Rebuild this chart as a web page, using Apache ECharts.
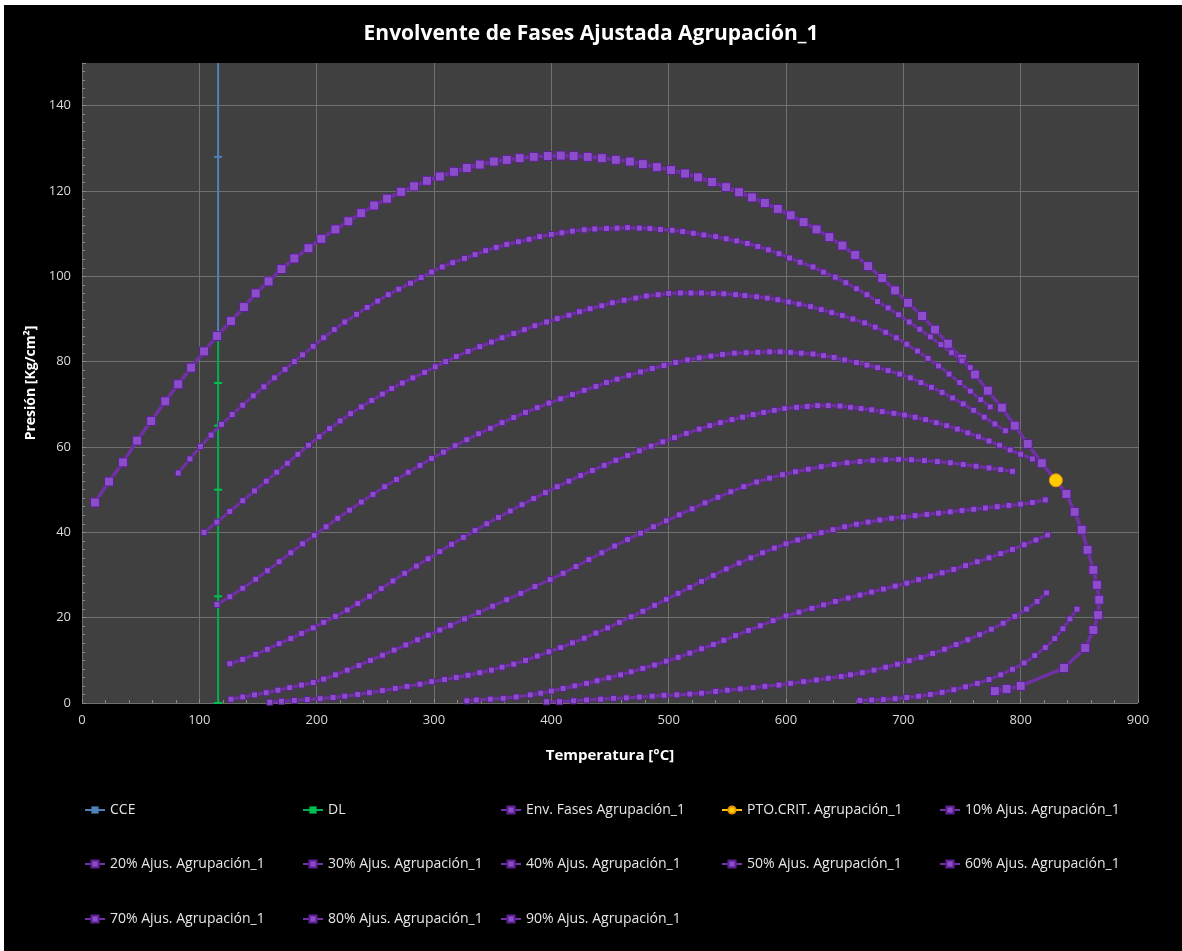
<!DOCTYPE html>
<html>
<head>
<meta charset="utf-8">
<script src="https://cdn.jsdelivr.net/npm/echarts@6/dist/echarts.min.js"></script>
<style>
html,body{margin:0;padding:0;background:#000;}
#chart{position:absolute;left:0;top:0;width:1182px;height:951px;}
.wl{position:absolute;left:0;top:0;width:4px;height:951px;background:#fff;}
.wt{position:absolute;left:0;top:0;width:1182px;height:5px;background:#fff;}
</style>
</head>
<body>
<div id="chart"></div>
<div class="wl"></div><div class="wt"></div>
<script>
const titleText = 'Envolvente de Fases Ajustada Agrupación_1';
const xName = 'Temperatura [°C]';
const yName = 'Presión [Kg/cm²]';
const xTicks = [0,100,200,300,400,500,600,700,800,900];
const yTicks = [0,20,40,60,80,100,120,140];

const names = ['CCE','DL','Env. Fases Agrupación_1','PTO.CRIT. Agrupación_1','10% Ajus. Agrupación_1',
 '20% Ajus. Agrupación_1','30% Ajus. Agrupación_1','40% Ajus. Agrupación_1','50% Ajus. Agrupación_1','60% Ajus. Agrupación_1',
 '70% Ajus. Agrupación_1','80% Ajus. Agrupación_1','90% Ajus. Agrupación_1'];

const cce = [[116,85.7],[116,128],[116,150]];
const dl = [[116,85.7],[116,75],[116,65],[116,50],[116,25],[116,0]];
const ptoCrit = [[830,52.2]];

const env = [[11,47.0],[23,51.9],[35,56.4],[47,61.5],[59,66.1],[71,70.7],[82,74.7],[93,78.6],[104,82.4],[115,86.0],[127,89.5],[138,92.8],[148,96.0],[159,98.8],[170,101.7],[181,104.2],[193,106.6],[204,108.8],[216,111.0],[227,112.9],[238,114.8],[249,116.6],[260,118.2],[272,119.8],[283,121.1],[294,122.4],[305,123.4],[317,124.5],[328,125.4],[339,126.2],[351,126.9],[362,127.3],[373,127.7],[385,128.0],[397,128.2],[408,128.3],[419,128.2],[431,128.0],[443,127.7],[455,127.3],[467,126.9],[478,126.3],[490,125.6],[502,124.9],[514,124.1],[525,123.2],[537,122.1],[549,120.9],[560,119.7],[571,118.5],[582,117.2],[593,115.8],[604,114.3],[615,112.7],[626,111.0],[637,109.2],[648,107.2],[659,105.0],[670,102.4],[682,99.6],[693,96.7],[704,93.8],[716,90.7],[727,87.5],[738,84.2],[750,80.7],[761,77.0],[772,73.2],[784,69.2],[795,65.0],[806,60.7],[818,56.2],[830,52.2],[839,49.0],[846,44.8],[852,40.6],[857,35.9],[862,31.2],[865,27.7],[867,24.2],[866,20.6],[862,17.1],[855,12.9],[837,8.2],[800,4.0],[788,3.3],[778,2.8]];

const p10 = [[82,53.9],[92,57.2],[101,60.1],[110,62.8],[119,65.3],[128,67.6],[137,69.8],[146,72.0],[155,74.1],[164,76.2],[173,78.2],[181,80.0],[188,81.6],[197,83.6],[206,85.6],[215,87.5],[224,89.3],[234,91.1],[243,92.7],[252,94.2],[261,95.7],[270,97.0],[280,98.4],[289,99.7],[298,101.0],[307,102.2],[316,103.2],[326,104.2],[335,105.1],[344,106.0],[353,106.8],[362,107.5],[372,108.1],[381,108.7],[390,109.3],[400,109.8],[409,110.2],[418,110.6],[428,110.9],[437,111.1],[447,111.2],[456,111.3],[465,111.4],[475,111.3],[484,111.2],[493,111.0],[503,110.8],[512,110.5],[521,110.1],[530,109.7],[540,109.3],[549,108.8],[558,108.3],[567,107.7],[576,107.0],[585,106.2],[594,105.3],[603,104.3],[612,103.3],[623,102.2],[632,101.0],[642,99.8],[651,98.5],[660,97.1],[669,95.7],[678,94.1],[687,92.6],[696,91.0],[705,89.3],[714,87.6],[723,85.8],[732,84.0],[741,82.1],[750,80.2],[757,78.6]];

const p20 = [[104,40.0],[115,42.4],[126,44.9],[137,47.4],[147,49.7],[157,52.0],[166,54.1],[175,56.2],[184,58.3],[193,60.4],[202,62.4],[211,64.3],[220,66.1],[229,67.8],[238,69.4],[247,70.9],[256,72.4],[264,73.7],[273,75.0],[282,76.2],[292,77.5],[301,78.8],[310,80.0],[319,81.2],[329,82.4],[339,83.5],[349,84.6],[358,85.6],[368,86.6],[377,87.5],[386,88.4],[396,89.3],[405,90.1],[415,90.9],[424,91.7],[433,92.4],[443,93.1],[452,93.8],[462,94.4],[472,94.9],[481,95.4],[491,95.7],[500,96.0],[510,96.1],[519,96.1],[528,96.1],[538,96.0],[547,95.9],[557,95.7],[565,95.5],[575,95.2],[584,94.9],[593,94.5],[602,94.0],[611,93.5],[621,92.9],[630,92.2],[639,91.5],[648,90.8],[657,90.0],[667,89.1],[676,88.1],[685,86.9],[694,85.6],[703,84.1],[712,82.5],[721,80.8],[730,79.0],[739,77.1],[748,75.1],[757,73.1],[766,71.1],[774,69.4]];

const p30 = [[115,23.1],[126,24.9],[137,26.9],[148,29.0],[158,31.0],[168,33.1],[178,35.2],[188,37.3],[198,39.3],[208,41.3],[218,43.3],[228,45.2],[238,47.1],[248,48.9],[258,50.7],[268,52.4],[278,54.1],[288,55.7],[298,57.3],[308,58.8],[318,60.3],[328,61.7],[338,63.1],[348,64.4],[358,65.7],[368,66.9],[378,68.1],[388,69.2],[398,70.3],[408,71.3],[418,72.3],[428,73.3],[438,74.2],[447,75.1],[456,75.9],[466,76.8],[476,77.6],[486,78.4],[496,79.1],[506,79.8],[516,80.4],[526,80.9],[536,81.3],[546,81.7],[556,82.0],[566,82.1],[576,82.2],[586,82.3],[595,82.3],[604,82.2],[613,82.0],[623,81.8],[632,81.4],[641,81.0],[650,80.4],[660,79.8],[669,79.2],[678,78.6],[687,77.9],[697,77.1],[706,76.2],[715,75.1],[724,74.0],[733,72.8],[742,71.5],[751,70.1],[760,68.6],[769,67.0],[778,65.4],[787,63.8]];

const p40 = [[126,9.2],[137,10.2],[148,11.4],[158,12.6],[168,13.9],[178,15.1],[187,16.3],[197,17.6],[206,18.9],[216,20.3],[226,21.8],[235,23.3],[245,25.0],[255,26.8],[265,28.6],[275,30.4],[285,32.1],[295,33.8],[305,35.5],[315,37.2],[325,38.8],[335,40.4],[345,42.0],[355,43.5],[365,45.0],[375,46.5],[385,47.9],[395,49.3],[405,50.7],[415,52.0],[425,53.3],[435,54.5],[445,55.7],[455,56.9],[465,58.0],[475,59.1],[485,60.2],[495,61.2],[505,62.2],[515,63.2],[526,64.2],[535,65.0],[544,65.7],[554,66.4],[563,67.0],[572,67.6],[581,68.1],[590,68.6],[599,69.0],[609,69.3],[618,69.5],[627,69.7],[636,69.7],[646,69.6],[655,69.3],[664,69.0],[673,68.7],[682,68.3],[692,67.9],[701,67.5],[710,67.0],[719,66.4],[728,65.7],[737,65.0],[746,64.2],[755,63.3],[764,62.4],[773,61.4],[782,60.4],[791,59.3],[800,58.3],[810,57.2]];

const p50 = [[127,0.9],[137,1.4],[147,1.9],[157,2.4],[167,3.0],[177,3.6],[187,4.2],[197,4.8],[206,5.6],[216,6.6],[226,7.7],[236,8.8],[246,10.0],[256,11.2],[266,12.4],[276,13.6],[286,14.8],[295,15.9],[305,17.1],[314,18.2],[326,19.7],[338,21.2],[350,22.7],[362,24.2],[374,25.7],[386,27.3],[399,28.9],[410,30.4],[421,32.0],[432,33.6],[443,35.2],[454,36.8],[465,38.3],[476,39.8],[487,41.3],[498,42.7],[509,44.1],[520,45.5],[531,46.9],[542,48.2],[553,49.5],[564,50.7],[575,51.8],[586,52.7],[597,53.5],[608,54.2],[619,54.8],[630,55.4],[641,55.9],[652,56.3],[663,56.6],[674,56.9],[685,57.0],[696,57.1],[707,57.0],[718,56.8],[729,56.6],[740,56.3],[751,55.9],[762,55.5],[773,55.1],[783,54.7],[793,54.3]];

const p60 = [[160,0.2],[170,0.4],[181,0.6],[192,0.8],[203,1.0],[214,1.3],[224,1.6],[235,2.0],[245,2.4],[256,2.9],[267,3.4],[277,3.9],[288,4.4],[298,5.0],[309,5.5],[319,6.0],[329,6.5],[339,7.1],[349,7.7],[358,8.4],[368,9.1],[378,10.0],[388,11.0],[398,12.0],[408,13.0],[418,14.1],[428,15.2],[438,16.4],[448,17.6],[458,18.9],[468,20.2],[478,21.5],[488,22.9],[498,24.3],[508,25.7],[518,27.1],[528,28.5],[538,29.9],[549,31.4],[560,32.8],[570,34.0],[580,35.2],[590,36.3],[600,37.3],[610,38.2],[620,39.1],[630,39.9],[640,40.6],[650,41.3],[660,41.9],[670,42.4],[680,42.9],[690,43.3],[700,43.6],[710,43.9],[720,44.2],[730,44.5],[740,44.8],[750,45.1],[760,45.4],[770,45.7],[780,46.0],[790,46.3],[800,46.6],[810,47.0],[821,47.6]];

const p70 = [[328,0.5],[336,0.7],[348,0.9],[359,1.1],[370,1.4],[382,1.9],[391,2.3],[400,2.8],[410,3.4],[420,4.0],[430,4.6],[439,5.2],[449,5.9],[459,6.6],[468,7.3],[478,8.1],[488,8.9],[498,9.8],[508,10.7],[518,11.7],[528,12.7],[538,13.7],[547,14.7],[557,15.8],[568,17.0],[578,18.1],[589,19.3],[600,20.4],[611,21.3],[622,22.2],[632,23.0],[642,23.8],[653,24.6],[663,25.3],[673,26.0],[683,26.7],[693,27.4],[703,28.1],[713,28.9],[723,29.7],[733,30.5],[743,31.3],[753,32.2],[763,33.1],[773,34.0],[783,35.0],[793,36.0],[803,37.1],[813,38.2],[823,39.4]];

const p80 = [[396,0.3],[407,0.3],[419,0.5],[430,0.7],[442,0.9],[453,1.1],[464,1.2],[475,1.4],[486,1.6],[496,1.8],[507,1.9],[518,2.1],[528,2.3],[540,2.7],[550,3.0],[561,3.3],[572,3.6],[582,3.9],[594,4.2],[604,4.6],[615,5.0],[626,5.4],[636,5.8],[647,6.2],[655,6.6],[665,7.1],[675,7.7],[685,8.4],[695,9.1],[705,9.9],[715,10.7],[725,11.6],[735,12.6],[745,13.7],[755,14.8],[765,16.0],[775,17.3],[785,18.7],[795,20.3],[805,22.0],[814,23.8],[822,25.8]];

const p90 = [[663,0.6],[673,0.7],[683,0.8],[693,1.0],[703,1.3],[713,1.6],[723,2.0],[733,2.5],[743,3.1],[753,3.8],[763,4.6],[773,5.5],[783,6.6],[793,7.9],[803,9.4],[812,11.1],[821,13.0],[829,15.1],[836,17.4],[842,19.7],[848,22.0]];

const PURPLE_LINE = '#7030a6';
const PURPLE_MARK = '#8c4dcb';
const PURPLE_BORDER = '#5c2190';

function purple(name, data, big){
  return {
    name, type:'line', data,
    showSymbol:true, symbol:'rect', symbolSize: big ? 9 : 6,
    lineStyle:{color:PURPLE_LINE, width: big ? 3.5 : 3},
    itemStyle:{color:PURPLE_MARK, borderColor:PURPLE_BORDER, borderWidth:1},
    emphasis:{disabled:true}, animation:false, z: 3
  };
}

const series = [
  {name:names[0], type:'line', data:cce.map((p,i)=> i===cce.length-1 ? {value:p, symbol:'none'} : p),
   symbol:'rect', symbolSize:[8,2],
   lineStyle:{color:'#4f81bd', width:2}, itemStyle:{color:'#4f81bd'}, animation:false, z:2},
  {name:names[1], type:'line', data:dl, symbol:'rect', symbolSize:[8,2],
   lineStyle:{color:'#00b050', width:2}, itemStyle:{color:'#00c050'}, animation:false, z:2},
  purple(names[2], env, true),
  {name:names[3], type:'line', data:ptoCrit, symbol:'circle', symbolSize:13,
   lineStyle:{color:'#ffc000', width:3}, itemStyle:{color:'#ffcc00', borderColor:'#e69500', borderWidth:1},
   animation:false, z:5},
  purple(names[4], p10), purple(names[5], p20), purple(names[6], p30), purple(names[7], p40),
  purple(names[8], p50), purple(names[9], p60), purple(names[10], p70), purple(names[11], p80),
  purple(names[12], p90)
];

const colX = [84, 302, 500, 721, 939];
const rowY = [811, 865, 920];
const legends = names.map((n,i)=>({
  data:[n], left: colX[i%5], top: rowY[Math.floor(i/5)] - 8, padding:0,
  itemWidth:20, itemHeight:9, itemGap:0,
  textStyle:{color:'#e6e6e6', fontSize:14, fontFamily:'Open Sans'},
  selectedMode:false
}));

const splitColors = ['#707070','#707070','#707070','#707070','#707070','#707070','#707070','#707070','#404040'];

const chart = echarts.init(document.getElementById('chart'), null, {renderer:'canvas'});
chart.setOption({
  backgroundColor:'#000',
  animation:false,
  title:{text:titleText, left:'center', top:19,
    textStyle:{color:'#ffffff', fontSize:21, fontWeight:'bold', fontFamily:'Open Sans'}},
  legend: legends,
  grid:{left:82, right:44, top:63, bottom:248, show:true, backgroundColor:'#404040', borderWidth:0},
  xAxis:{type:'value', min:0, max:900, interval:100,
    name:xName, nameLocation:'middle', nameGap:45,
    nameTextStyle:{color:'#ffffff', fontSize:15, fontWeight:'bold', fontFamily:'Open Sans'},
    axisLine:{show:false},
    axisTick:{show:true, inside:true, length:4, lineStyle:{color:'#8a8a8a'}},
    minorTick:{show:true, splitNumber:5, length:3, lineStyle:{color:'#8a8a8a'}},
    axisLabel:{color:'#d9d9d9', fontSize:13, fontFamily:'Open Sans', margin:11,
      formatter:v=> xTicks.includes(v) ? String(v) : ''},
    splitLine:{show:true, lineStyle:{color:'#707070', width:1}}
  },
  yAxis:{type:'value', min:0, max:150, interval:20,
    name:yName, nameLocation:'middle', nameGap:39, nameRotate:90,
    nameTextStyle:{color:'#ffffff', fontSize:14, fontWeight:'bold', fontFamily:'Open Sans'},
    axisLine:{show:false},
    axisTick:{show:true, inside:true, length:4, lineStyle:{color:'#8a8a8a'}},
    minorTick:{show:true, splitNumber:10, length:3, lineStyle:{color:'#8a8a8a'}},
    axisLabel:{color:'#d9d9d9', fontSize:13, fontFamily:'Open Sans', margin:11,
      formatter:v=> yTicks.includes(v) ? String(v) : ''},
    splitLine:{show:true, lineStyle:{color:splitColors, width:1}}
  },
  series
});
</script>
</body>
</html>
